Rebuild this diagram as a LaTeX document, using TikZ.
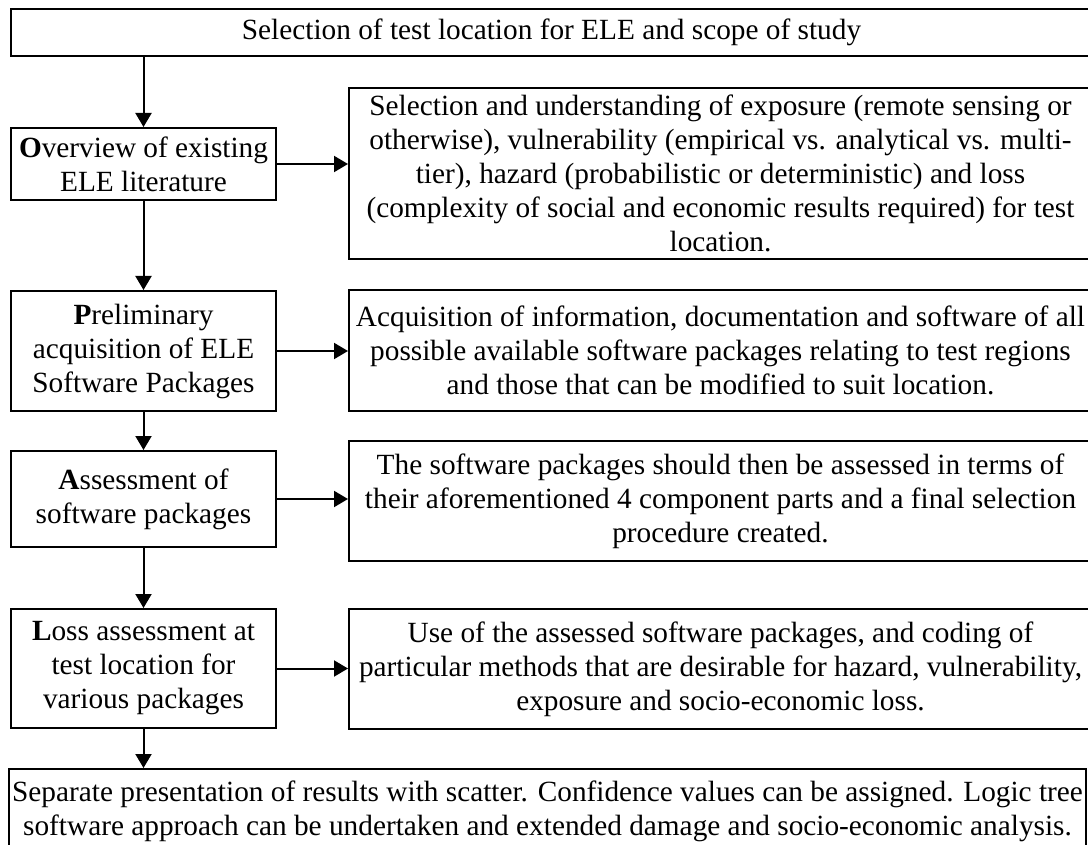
\documentclass[tikz,border=0pt]{standalone}
\usepackage{fontspec}
\setmainfont{Liberation Serif}
\usepackage{tikz}
\usetikzlibrary{arrows.meta}
\tikzset{
  box/.style={draw, line width=2pt, align=center, inner sep=0pt,
    font=\fontsize{29.3}{34}\selectfont},
  lbox/.style={box, minimum width=265pt},
  rbox/.style={box, minimum width=743pt},
  arr/.style={line width=2pt, -{Triangle[length=14pt,width=16pt]}}
}

\begin{document}
\begin{tikzpicture}[x=1pt,y=-1pt]
  \useasboundingbox (0,0) rectangle (1088,845);
  \clip (0,0) rectangle (1088,845);

  \node[box, minimum width=1081pt, minimum height=47pt] (top) at (551.5,32.5)
    {Selection of test location for ELE and scope of study};

  % left column
  \node[lbox, minimum height=72pt] (ovw) at (143.5,164)
    {\textbf{O}verview of existing\\ELE literature};
  \node[lbox, minimum height=120pt] (pre) at (143.5,351)
    {\textbf{P}reliminary\\acquisition of ELE\\Software Packages};
  \node[lbox, minimum height=96pt] (ass) at (143.5,499)
    {\textbf{A}ssessment of\\software packages};
  \node[lbox, minimum height=119pt] (los) at (143.5,668.5)
    {\textbf{L}oss assessment at\\test location for\\various packages};

  % right column
  \node[rbox, minimum height=171pt] (sel) at (720.5,173.5)
    {Selection and understanding of exposure (remote sensing or\\
     otherwise), vulnerability (empirical vs. analytical vs. multi-\\
     tier), hazard (probabilistic or deterministic) and loss\\
     (complexity of social and economic results required) for test\\
     location.};
  \node[rbox, minimum height=121pt] (acq) at (720.5,350.5)
    {Acquisition of information, documentation and software of all\\
     possible available software packages relating to test regions\\
     and those that can be modified to suit location.};
  \node[rbox, minimum height=120pt] (asd) at (720.5,501)
    {The software packages should then be assessed in terms of\\
     their aforementioned 4 component parts and a final selection\\
     procedure created.};
  \node[rbox, minimum height=120pt] (use) at (720.5,669)
    {Use of the assessed software packages, and coding of\\
     particular methods that are desirable for hazard, vulnerability,\\
     exposure and socio-economic loss.};

  \node[box, minimum width=1077pt, minimum height=84pt] (res) at (547.5,811)
    {Separate presentation of results with scatter. Confidence values can be assigned. Logic tree\\
     software approach can be undertaken and extended damage and socio-economic analysis.};

  % connectors
  \draw[arr] (ovw.north |- top.south) -- (ovw.north);
  \draw[arr] (ovw.south) -- (pre.north);
  \draw[arr] (pre.south) -- (ass.north);
  \draw[arr] (ass.south) -- (los.north);
  \draw[arr] (los.south) -- (los.south |- res.north);

  \draw[arr] (ovw.east) -- (ovw.east -| sel.west);
  \draw[arr] (pre.east) -- (pre.east -| acq.west);
  \draw[arr] (ass.east) -- (ass.east -| asd.west);
  \draw[arr] (los.east) -- (los.east -| use.west);
\end{tikzpicture}
\end{document}
